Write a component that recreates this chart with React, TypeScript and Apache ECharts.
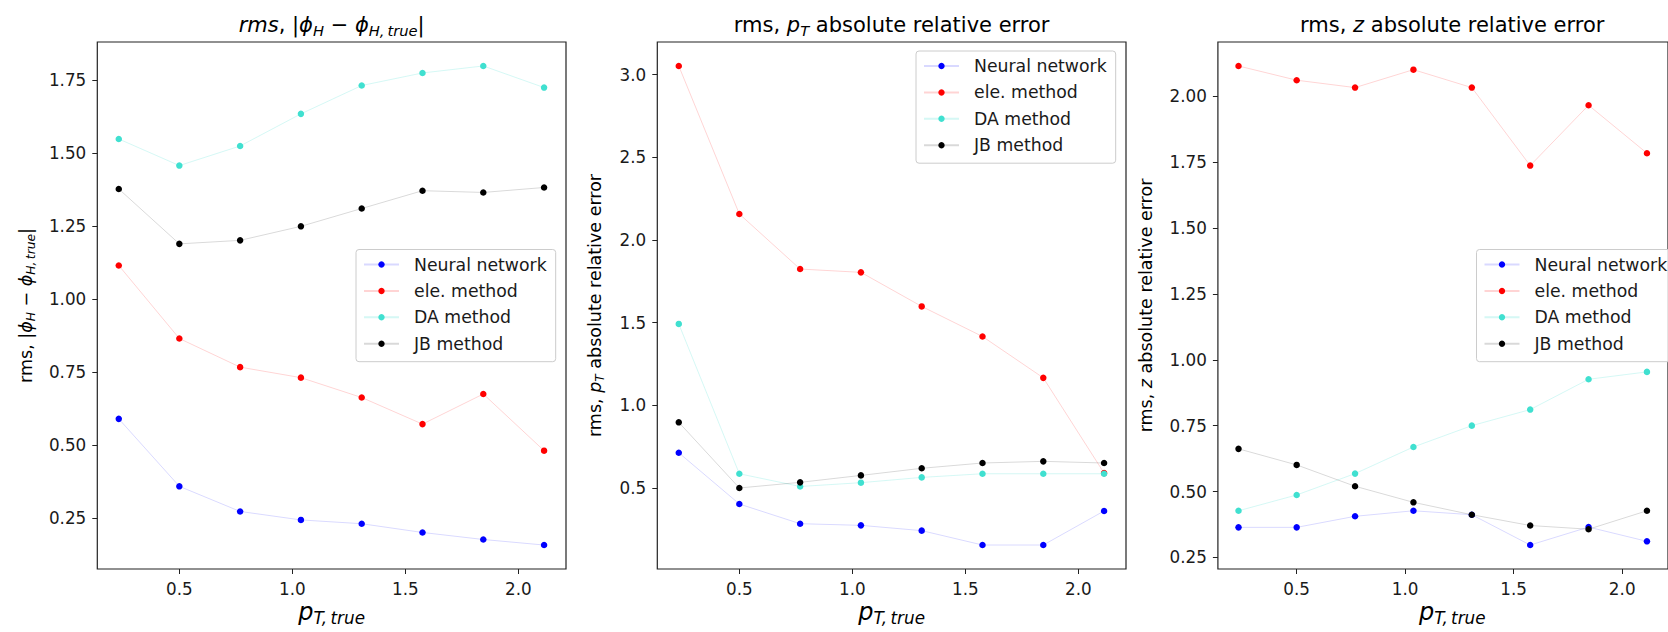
import React, { useEffect, useRef } from 'react';
import * as echarts from 'echarts';

const FONT = '"DejaVu Sans", sans-serif';

// x positions (p_T,true bin centres)
const ptTrue = [0.232, 0.5, 0.769, 1.038, 1.307, 1.576, 1.845, 2.114];
const seriesNames = ['Neural network', 'ele. method', 'DA method', 'JB method'];
const markerColors = ['#0000ff', '#ff0000', '#40e0d0', '#000000'];
const lineColors = ['rgba(0,0,255,0.15)', 'rgba(255,0,0,0.17)', 'rgba(64,224,208,0.22)', 'rgba(0,0,0,0.15)'];

// Panel 1: rms |phi_H - phi_H,true|
const phiNN = [0.591, 0.360, 0.274, 0.245, 0.232, 0.202, 0.178, 0.159];
const phiEle = [1.116, 0.866, 0.768, 0.732, 0.664, 0.573, 0.676, 0.482];
const phiDA = [1.549, 1.458, 1.525, 1.635, 1.732, 1.775, 1.799, 1.725];
const phiJB = [1.378, 1.190, 1.202, 1.250, 1.311, 1.372, 1.366, 1.383];

// Panel 2: rms p_T absolute relative error
const ptNN = [0.713, 0.403, 0.284, 0.274, 0.242, 0.155, 0.155, 0.361];
const ptEle = [3.052, 2.157, 1.824, 1.804, 1.598, 1.416, 1.166, 0.590];
const ptDA = [1.492, 0.586, 0.509, 0.532, 0.564, 0.586, 0.586, 0.586];
const ptJB = [0.897, 0.500, 0.534, 0.576, 0.619, 0.651, 0.661, 0.651];

// Panel 3: rms z absolute relative error
const zNN = [0.364, 0.364, 0.406, 0.427, 0.412, 0.297, 0.365, 0.311];
const zEle = [2.115, 2.061, 2.033, 2.101, 2.033, 1.737, 1.966, 1.784];
const zDA = [0.427, 0.487, 0.568, 0.669, 0.750, 0.811, 0.926, 0.954];
const zJB = [0.662, 0.601, 0.520, 0.459, 0.412, 0.371, 0.357, 0.427];

// tick labels
const xTicks = [0.5, 1.0, 1.5, 2.0];
const phiYTicks = [0.25, 0.5, 0.75, 1.0, 1.25, 1.5, 1.75];
const ptYTicks = [0.5, 1.0, 1.5, 2.0, 2.5, 3.0];
const zYTicks = [0.25, 0.5, 0.75, 1.0, 1.25, 1.5, 1.75, 2.0];

const panels = [
  { left: 97.3, data: [phiNN, phiEle, phiDA, phiJB], yMin: 0.077, yMax: 1.881, yTicks: phiYTicks, dec: 2, legend: { left: 356, top: 249.5 } },
  { left: 657.3, data: [ptNN, ptEle, ptDA, ptJB], yMin: 0.010, yMax: 3.197, yTicks: ptYTicks, dec: 1, legend: { left: 916, top: 51 } },
  { left: 1217.9, data: [zNN, zEle, zDA, zJB], yMin: 0.206, yMax: 2.206, yTicks: zYTicks, dec: 2, legend: { left: 1476.5, top: 249.5 } },
];
const GRID_TOP = 42;
const GRID_W = 468.7;
const GRID_H = 527;

const TICK_SIZE = 16.8;
const TEXT_COLOR = '#1a1a1a';

function rich(S: number) {
  return {
    u: { fontSize: S, fontFamily: FONT, lineHeight: 1.2 * S, fill: '#000' },
    i: { fontSize: S, fontFamily: FONT, fontStyle: 'italic', lineHeight: 1.2 * S, fill: '#000' },
    s: { fontSize: 0.7 * S, fontFamily: FONT, fontStyle: 'italic', lineHeight: 0.56 * S, verticalAlign: 'bottom', fill: '#000' },
  };
}

function textEl(text: string, S: number, x: number, y: number, rotation = 0) {
  return {
    type: 'text',
    x,
    y,
    rotation,
    silent: true,
    style: {
      text,
      rich: rich(S),
      fontSize: S,
      fontFamily: FONT,
      fill: '#000',
      align: 'center',
      verticalAlign: 'middle',
    },
  };
}

const titles = [
  '{i|rms}{u|, |}{i|ϕ}{s|H}{u| − }{i|ϕ}{s|H,\u2009true}{u||}',
  '{u|rms, }{i|p}{s|T}{u| absolute relative error}',
  '{u|rms, }{i|z}{u| absolute relative error}',
];
const yLabels = [
  '{u|rms, |}{i|ϕ}{s|H}{u| − }{i|ϕ}{s|H,\u2009true}{u||}',
  '{u|rms, }{i|p}{s|T}{u| absolute relative error}',
  '{u|rms, }{i|z}{u| absolute relative error}',
];
const xLabel = '{i|p}{s|T,\u2009true}';
const yLabelX = [26, 595, 1146];

function buildOption() {
  const grid: any[] = [];
  const xAxis: any[] = [];
  const yAxis: any[] = [];
  const series: any[] = [];
  const legend: any[] = [];
  const graphic: any[] = [];

  panels.forEach((p, pi) => {
    grid.push({
      left: p.left,
      top: GRID_TOP,
      width: GRID_W,
      height: GRID_H,
      show: true,
      borderColor: '#222',
      borderWidth: 1.2,
      backgroundColor: 'transparent',
      containLabel: false,
    });
    xAxis.push({
      gridIndex: pi,
      type: 'value',
      min: 0.137,
      max: 2.211,
      axisLine: { show: false, onZero: false },
      splitLine: { show: false },
      axisTick: { show: true, inside: false, length: 5, lineStyle: { color: '#222', width: 1 }, customValues: xTicks },
      axisLabel: {
        customValues: xTicks,
        formatter: (v: number) => v.toFixed(1),
        fontFamily: FONT,
        fontSize: TICK_SIZE,
        color: TEXT_COLOR,
        margin: 11,
      },
    });
    yAxis.push({
      gridIndex: pi,
      type: 'value',
      min: p.yMin,
      max: p.yMax,
      axisLine: { show: false, onZero: false },
      splitLine: { show: false },
      axisTick: { show: true, inside: false, length: 5, lineStyle: { color: '#222', width: 1 }, customValues: p.yTicks },
      axisLabel: {
        customValues: p.yTicks,
        formatter: (v: number) => v.toFixed(p.dec),
        fontFamily: FONT,
        fontSize: TICK_SIZE,
        color: TEXT_COLOR,
        margin: 11,
      },
    });
    p.data.forEach((vals, k) => {
      series.push({
        type: 'line',
        name: seriesNames[k],
        xAxisIndex: pi,
        yAxisIndex: pi,
        data: ptTrue.map((x, j) => [x, vals[j]]),
        symbol: 'circle',
        symbolSize: 6.5,
        showSymbol: true,
        lineStyle: { color: lineColors[k], width: 1 },
        itemStyle: { color: markerColors[k], borderWidth: 0 },
        emphasis: { disabled: true },
        silent: true,
        z: 2 + k,
      });
    });
    legend.push({
      orient: 'vertical',
      left: p.legend.left,
      top: p.legend.top,
      itemWidth: 35,
      itemHeight: 8,
      itemGap: 8.4,
      padding: [6, 9, 9, 7],
      backgroundColor: 'rgba(255,255,255,0.8)',
      borderColor: '#cccccc',
      borderWidth: 1,
      borderRadius: 3,
      selectedMode: false,
      textStyle: { fontFamily: FONT, fontSize: 17.3, color: TEXT_COLOR, lineHeight: 18, padding: [0, 0, 0, 10] },
      data: seriesNames,
    });
    const cx = p.left + GRID_W / 2;
    graphic.push(textEl(titles[pi], 21, cx, 25));
    graphic.push(textEl(yLabels[pi], 17.5, yLabelX[pi], GRID_TOP + GRID_H / 2, Math.PI / 2));
    graphic.push(textEl(xLabel, 24, cx, 612));
  });

  return {
    animation: false,
    backgroundColor: '#ffffff',
    grid,
    xAxis,
    yAxis,
    series,
    legend,
    graphic,
  };
}

export default function App() {
  const ref = useRef<HTMLDivElement>(null);
  useEffect(() => {
    const chart = echarts.init(ref.current as HTMLDivElement, null, { renderer: 'svg' });
    chart.setOption(buildOption() as any);
    return () => chart.dispose();
  }, []);
  return (
    <div
      ref={ref}
      style={{ position: 'fixed', left: 0, top: 0, width: 1668, height: 632, background: '#fff' }}
    />
  );
}
